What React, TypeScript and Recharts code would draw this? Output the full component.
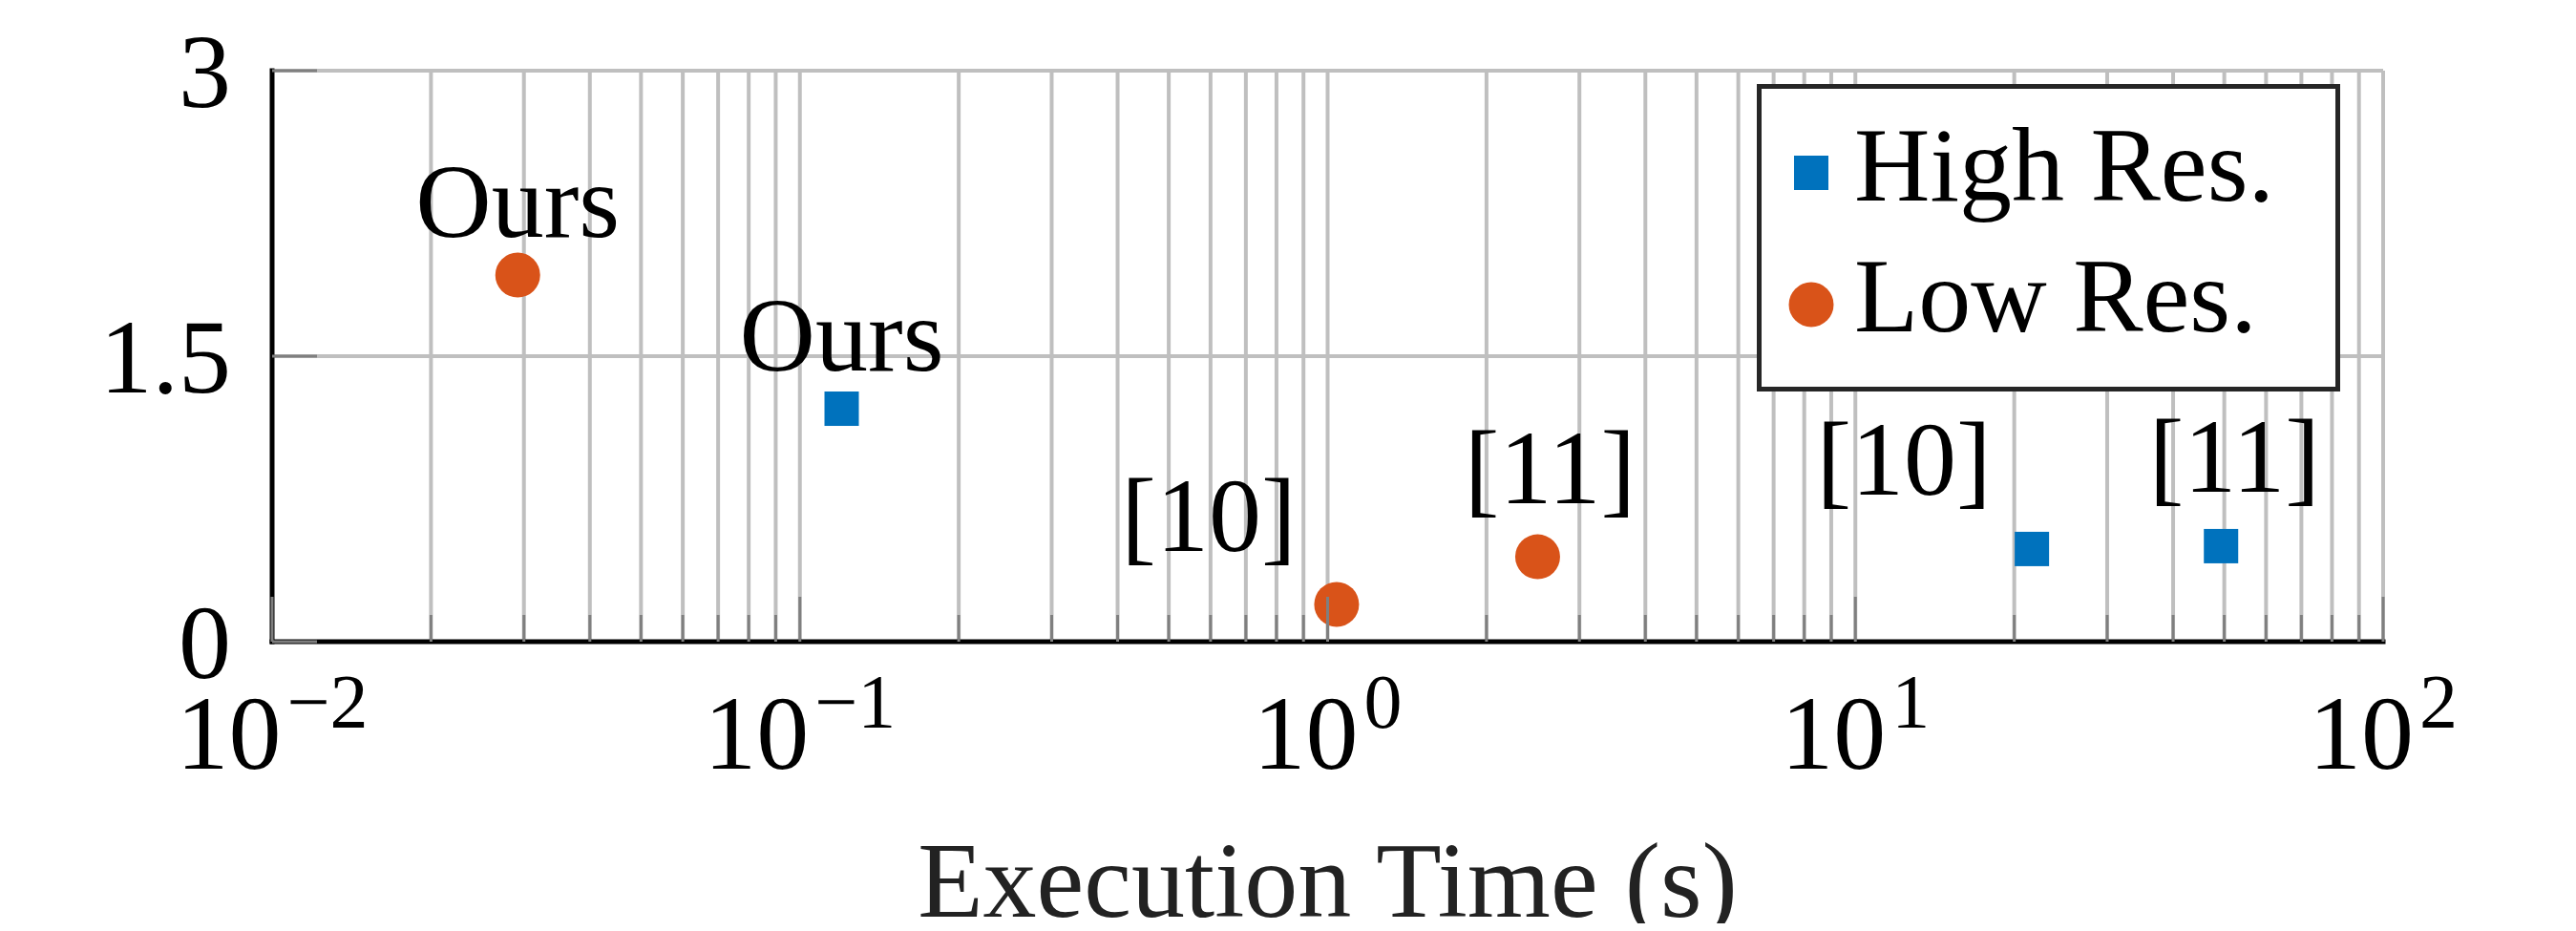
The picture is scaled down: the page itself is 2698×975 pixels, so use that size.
import React from 'react';
import { ScatterChart, Scatter, XAxis, YAxis, CartesianGrid, Legend } from 'recharts';

// ---- data ----
const majorTimeTicks = [0.01, 0.1, 1, 10, 100];
const timeTickExponents = ['\u22122', '\u22121', '0', '1', '2'];
const minorMultipliers = [2, 3, 4, 5, 6, 7, 8, 9];
const valueTicks = [0, 1.5, 3];
const valueTickLabels = ['0', '1.5', '3'];

const highResTime = [0.12, 21.6, 49.3];
const highResValue = [1.224, 0.487, 0.502];
const highResLabels = ['Ours', '[10]', '[11]'];

const lowResTime = [0.0292, 1.04, 2.5];
const lowResValue = [1.926, 0.196, 0.446];
const lowResLabels = ['Ours', '[10]', '[11]'];

const seriesNames = ['High Res.', 'Low Res.'];

// ---- style ----
const FONT = '"Liberation Serif", "Times New Roman", serif';
const BLUE = '#0072BD';
const ORANGE = '#D95319';
const GRID = '#bfbfbf';
const TICK = '#7f7f7f';
const FS = 110;

// label offsets in pixels relative to marker center (style, not data)
const highResLabelOffsets = [[0, -40], [-134, -57], [14, -57]];
const lowResLabelOffsets = [[0, -40], [-134, -56], [13, -56]];

const allTimeTicks = majorTimeTicks.flatMap((m, i) =>
  i < majorTimeTicks.length - 1 ? [m, ...minorMultipliers.map((k) => k * m)] : [m]
);

const highResData = highResTime.map((t, i) => ({ time: t, value: highResValue[i], label: highResLabels[i], idx: i }));
const lowResData = lowResTime.map((t, i) => ({ time: t, value: lowResValue[i], label: lowResLabels[i], idx: i }));

const XTick = (props: any) => {
  const { x, y, payload } = props;
  const v = payload.value;
  const mi = majorTimeTicks.findIndex((m) => Math.abs(v - m) / m < 1e-6);
  const major = mi >= 0;
  return (
    <g>
      <line x1={x} x2={x} y1={y} y2={y - (major ? 47 : 28)} stroke={TICK} strokeWidth={3} />
      {major && (
        <text x={x} y={y + 133} textAnchor="middle" fontSize={FS} fontFamily={FONT} fill="#000">
          10
          <tspan dx={6} dy={-43} fontSize={80}>{timeTickExponents[mi]}</tspan>
        </text>
      )}
    </g>
  );
};

const YTick = (props: any) => {
  const { x, y, payload } = props;
  const i = valueTicks.indexOf(payload.value);
  return (
    <g>
      <line x1={x} x2={x + 47} y1={y} y2={y} stroke={TICK} strokeWidth={3} />
      <text x={x - 43} y={y + 38} textAnchor="end" fontSize={FS} fontFamily={FONT} fill="#000">
        {i >= 0 ? valueTickLabels[i] : String(payload.value)}
      </text>
    </g>
  );
};

const makeShape = (kind: 'square' | 'circle', offsets: number[][]) => (props: any) => {
  const { cx, cy, payload } = props;
  const [dx, dy] = offsets[payload.idx];
  return (
    <g>
      {kind === 'square' ? (
        <rect x={cx - 18} y={cy - 18} width={36} height={36} fill={BLUE} />
      ) : (
        <circle cx={cx} cy={cy} r={23.5} fill={ORANGE} />
      )}
      <text x={cx + dx} y={cy + dy} textAnchor="middle" fontSize={FS} fontFamily={FONT} fill="#000">
        {payload.label}
      </text>
    </g>
  );
};

const LegendBox = () => (
  <svg width={611} height={322} style={{ display: 'block' }}>
    <rect x={2.5} y={2.5} width={606} height={317} fill="#fff" stroke="#262626" strokeWidth={5} />
    <rect x={39} y={75} width={36} height={36} fill={BLUE} />
    <text x={102} y={122} fontSize={FS} fontFamily={FONT} fill="#000">{seriesNames[0]}</text>
    <circle cx={57} cy={231} r={23.5} fill={ORANGE} />
    <text x={102} y={259} fontSize={FS} fontFamily={FONT} fill="#000">{seriesNames[1]}</text>
  </svg>
);

const AxisTitle = (props: any) => {
  const vb = props.viewBox || {};
  return (
    <text x={vb.x + vb.width / 2} y={vb.y + 288} textAnchor="middle" fontSize={112} fontFamily={FONT} fill="#222">
      Execution Time (s)
    </text>
  );
};

export default function App() {
  return (
    <div style={{ position: 'relative', width: 2682, height: 959 }}>
      <ScatterChart
        width={2682}
        height={959}
        margin={{ top: 66, right: 194, bottom: 0, left: 0 }}
        style={{ overflow: 'visible' }}
      >
        <CartesianGrid stroke={GRID} strokeWidth={4} />
        <XAxis
          type="number"
          dataKey="time"
          scale="log"
          domain={[0.01, 100]}
          allowDataOverflow
          ticks={allTimeTicks}
          interval={0}
          tickSize={0}
          tickMargin={0}
          tickLine={false}
          tick={<XTick />}
          height={295}
          axisLine={{ stroke: '#000', strokeWidth: 5, strokeLinecap: 'square' }}
          label={AxisTitle}
        />
        <YAxis
          type="number"
          dataKey="value"
          domain={[0, 3]}
          allowDataOverflow
          ticks={valueTicks}
          interval={0}
          tickSize={0}
          tickMargin={0}
          tickLine={false}
          tick={<YTick />}
          width={277}
          axisLine={{ stroke: '#000', strokeWidth: 5, strokeLinecap: 'square' }}
        />
        <Legend
          layout="horizontal"
          verticalAlign="middle"
          align="center"
          content={() => <LegendBox />}
          wrapperStyle={{ position: 'absolute', left: 1832, top: 80, width: 611, height: 322 }}
        />
        <Scatter
          name={seriesNames[0]}
          data={highResData}
          isAnimationActive={false}
          shape={makeShape('square', highResLabelOffsets)}
        />
        <Scatter
          name={seriesNames[1]}
          data={lowResData}
          isAnimationActive={false}
          shape={makeShape('circle', lowResLabelOffsets)}
        />
      </ScatterChart>
    </div>
  );
}
